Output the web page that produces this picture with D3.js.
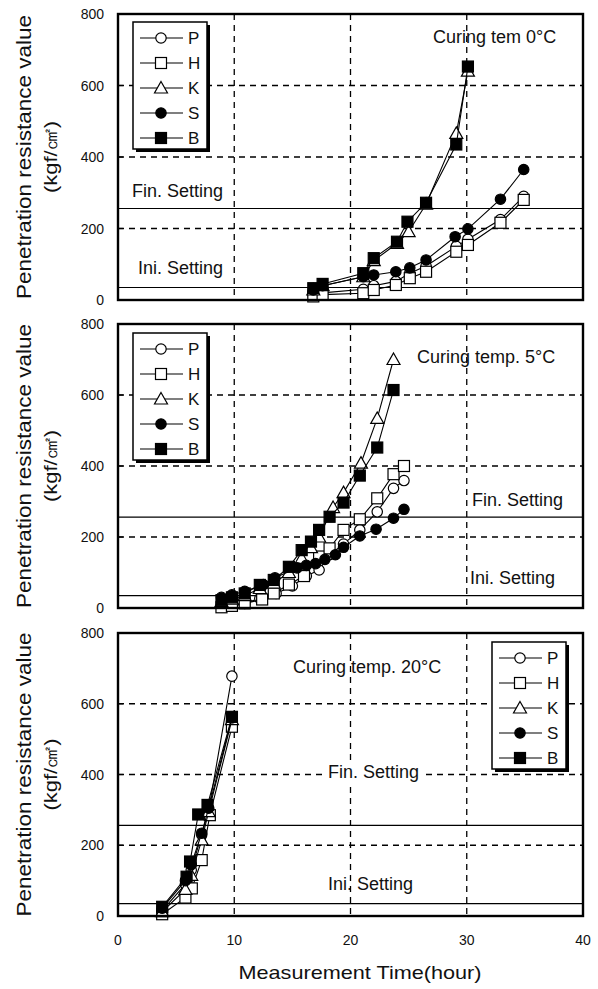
<!DOCTYPE html>
<html>
<head>
<meta charset="utf-8">
<script src="https://cdn.jsdelivr.net/npm/d3@7"></script>
<style>
  body { margin: 0; background: #fff; }
  text { font-family: "Liberation Sans", Arial, sans-serif; fill: #111; }
</style>
</head>
<body>
<div id="chart"></div>
<script>
// series names and markers
const seriesNames = ["P", "H", "K", "S", "B"];
const xTicks = [0, 10, 20, 30, 40];
const yTicks = [0, 200, 400, 600, 800];
const finSetting = 256, iniSetting = 35;

// curing temp 0°C  (time in hours, penetration resistance kgf/cm2)
const t0 = {
  P: [16.8, 17.6, 21.1, 22.0, 23.9, 25.1, 26.5, 29.1, 30.1, 32.9, 34.9],
  H: [16.8, 17.6, 21.1, 22.0, 23.9, 25.1, 26.5, 29.1, 30.1, 32.9, 34.9],
  K: [16.8, 17.6, 21.1, 22.0, 24.0, 25.0, 26.5, 29.1, 30.1],
  S: [16.8, 17.6, 21.1, 22.0, 23.9, 25.1, 26.5, 29.0, 30.1, 32.9, 34.9],
  B: [16.8, 17.6, 21.1, 22.0, 24.0, 24.9, 26.5, 29.1, 30.1]
};
const v0 = {
  P: [12, 20, 30, 40, 52, 75, 95, 150, 170, 225, 290],
  H: [10, 15, 19, 28, 42, 61, 79, 135, 154, 216, 280],
  K: [28, 40, 65, 110, 158, 191, 268, 466, 640],
  S: [28, 40, 65, 70, 79, 90, 112, 177, 199, 282, 365],
  B: [33, 45, 75, 117, 163, 219, 272, 435, 653]
};

// curing temp 5°C
const t5 = {
  P: [9.8, 10.9, 12.2, 13.6, 15.0, 16.2, 17.3, 18.2, 19.4, 20.8, 22.3, 23.7, 24.6],
  H: [8.9, 9.8, 10.9, 12.4, 13.4, 14.7, 16.0, 17.3, 18.2, 19.4, 20.8, 22.3, 23.7, 24.6],
  K: [8.9, 9.8, 10.9, 12.2, 13.4, 14.7, 15.8, 16.6, 17.3, 18.5, 19.4, 20.9, 22.3, 23.7],
  S: [8.9, 9.8, 10.9, 12.5, 13.5, 15.4, 16.2, 17.0, 17.8, 18.7, 19.4, 20.8, 22.2, 23.7, 24.6],
  B: [8.9, 9.8, 10.9, 12.2, 13.4, 14.7, 15.8, 16.6, 17.3, 18.2, 19.4, 20.8, 22.3, 23.7]
};
const v5 = {
  P: [5, 13, 27, 41, 62, 90, 107, 150, 180, 220, 271, 337, 359],
  H: [2, 6, 13, 24, 41, 66, 90, 145, 168, 220, 250, 309, 377, 400],
  K: [18, 25, 35, 55, 70, 100, 140, 170, 200, 283, 325, 408, 534, 700],
  S: [30, 37, 47, 66, 85, 113, 120, 125, 137, 150, 171, 203, 222, 253, 278],
  B: [22, 30, 41, 65, 79, 116, 163, 187, 220, 257, 297, 373, 452, 614]
};

// curing temp 20°C
const t20 = {
  P: [3.8, 5.8, 6.3, 7.2, 7.8, 9.8],
  H: [3.8, 5.8, 6.35, 7.2, 7.9, 9.8],
  K: [3.8, 5.8, 6.3, 7.2, 7.8, 9.8],
  S: [3.8, 5.8, 6.3, 7.2, 7.8, 9.8],
  B: [3.8, 5.9, 6.2, 6.9, 7.7, 9.8]
};
const v20 = {
  P: [15, 90, 130, 230, 300, 678],
  H: [5, 52, 78, 158, 285, 535],
  K: [12, 75, 115, 215, 295, 555],
  S: [22, 100, 145, 234, 305, 560],
  B: [26, 111, 154, 287, 314, 563]
};

const W = 598, H = 989;
const svg = d3.select("#chart").append("svg")
  .attr("width", W).attr("height", H);

const x = d3.scaleLinear().domain([0, 40]).range([118, 583]);

// one panel per curing temperature
const panels = [
  { top: 14, bottom: 300, t: t0, v: v0, title: "Curing tem  0°C", titleX: 433, titleY: 37,
    fin: [132, 191], ini: [138, 268], legend: [133, 22] },
  { top: 324, bottom: 608, t: t5, v: v5, title: "Curing temp. 5°C", titleX: 417, titleY: 357,
    fin: [472, 500], ini: [470, 578], legend: [133, 333] },
  { top: 633, bottom: 916, t: t20, v: v20, title: "Curing temp. 20°C", titleX: 293, titleY: 667,
    fin: [328, 772], ini: [328, 884], legend: [492, 642], finMask: true }
];

function drawMarker(g, name, cx, cy) {
  if (name === "P" || name === "S") {
    g.append("circle").attr("cx", cx).attr("cy", cy).attr("r", 5.2)
      .attr("fill", name === "S" ? "#000" : "#fff").attr("stroke", "#000").attr("stroke-width", 1.2);
  } else if (name === "H" || name === "B") {
    g.append("rect").attr("x", cx - 5.5).attr("y", cy - 5.5).attr("width", 11).attr("height", 11)
      .attr("fill", name === "B" ? "#000" : "#fff").attr("stroke", "#000").attr("stroke-width", 1.2);
  } else {
    g.append("path")
      .attr("d", "M" + cx + "," + (cy - 6.5) + "L" + (cx + 6.5) + "," + (cy + 5) + "L" + (cx - 6.5) + "," + (cy + 5) + "Z")
      .attr("fill", "#fff").attr("stroke", "#000").attr("stroke-width", 1.2);
  }
}

panels.forEach(function(p) {
  const y = d3.scaleLinear().domain([0, 800]).range([p.bottom, p.top]);
  const g = svg.append("g");

  // dashed grid
  g.selectAll(".vgrid").data([10, 20, 30]).enter().append("line")
    .attr("x1", d => x(d)).attr("x2", d => x(d))
    .attr("y1", p.top).attr("y2", p.bottom)
    .attr("stroke", "#000").attr("stroke-width", 1.3).attr("stroke-dasharray", "6,5");
  g.selectAll(".hgrid").data([200, 400, 600]).enter().append("line")
    .attr("x1", x(0)).attr("x2", x(40))
    .attr("y1", d => y(d)).attr("y2", d => y(d))
    .attr("stroke", "#000").attr("stroke-width", 1.3).attr("stroke-dasharray", "6,5");

  // setting lines
  [finSetting, iniSetting].forEach(function(val) {
    g.append("line").attr("x1", x(0)).attr("x2", x(40))
      .attr("y1", y(val)).attr("y2", y(val))
      .attr("stroke", "#000").attr("stroke-width", 1.2);
  });

  // y axis tick labels
  g.selectAll(".ytick").data(yTicks).enter().append("text")
    .attr("x", 104).attr("y", d => y(d)).attr("dy", "0.36em")
    .attr("text-anchor", "end").style("font-size", "14px")
    .text(d => d);
  g.selectAll(".ytickmark").data([200, 400, 600]).enter().append("line")
    .attr("x1", x(0)).attr("x2", x(0) + 5)
    .attr("y1", d => y(d)).attr("y2", d => y(d))
    .attr("stroke", "#000").attr("stroke-width", 1.2);

  // y axis title
  const midY = (p.top + p.bottom) / 2;
  g.append("text")
    .attr("transform", "translate(31," + midY + ") rotate(-90)")
    .attr("text-anchor", "middle")
    .attr("textLength", 284).attr("lengthAdjust", "spacingAndGlyphs")
    .style("font-size", "21px")
    .text("Penetration resistance value");
  g.append("text")
    .attr("transform", "translate(57," + midY + ") rotate(-90)")
    .attr("text-anchor", "middle")
    .attr("textLength", 72).attr("lengthAdjust", "spacingAndGlyphs")
    .style("font-size", "19px")
    .text("(kgf/㎠)");

  // annotations
  g.append("text").attr("x", p.titleX).attr("y", p.titleY).attr("dy", "0.36em")
    .style("font-size", "18px").text(p.title);
  const fin = g.append("text").attr("x", p.fin[0]).attr("y", p.fin[1]).attr("dy", "0.36em")
    .style("font-size", "18px").text("Fin. Setting");
  if (p.finMask) {
    const bb = fin.node().getBBox();
    g.insert("rect", function() { return fin.node(); })
      .attr("x", bb.x - 3).attr("y", bb.y).attr("width", bb.width + 6).attr("height", bb.height)
      .attr("fill", "#fff");
  }
  g.append("text").attr("x", p.ini[0]).attr("y", p.ini[1]).attr("dy", "0.36em")
    .style("font-size", "18px").text("Ini. Setting");

  // series lines and markers
  const line = d3.line().x(d => x(d[0])).y(d => y(d[1]));
  seriesNames.forEach(function(name) {
    const pts = p.t[name].map((tt, i) => [tt, p.v[name][i]]);
    g.append("path").attr("d", line(pts))
      .attr("fill", "none").attr("stroke", "#000").attr("stroke-width", 1.1);
    const mg = g.append("g");
    pts.forEach(d => drawMarker(mg, name, x(d[0]), y(d[1])));
  });

  // frame
  g.append("rect").attr("x", x(0)).attr("y", p.top)
    .attr("width", x(40) - x(0)).attr("height", p.bottom - p.top)
    .attr("fill", "none").attr("stroke", "#000").attr("stroke-width", 2.4);

  // legend
  const lx = p.legend[0], ly = p.legend[1];
  const lg = g.append("g");
  lg.append("rect").attr("x", lx + 3).attr("y", ly + 3).attr("width", 74).attr("height", 127)
    .attr("fill", "#000");
  lg.append("rect").attr("x", lx).attr("y", ly).attr("width", 74).attr("height", 127)
    .attr("fill", "#fff").attr("stroke", "#000").attr("stroke-width", 1.5);
  seriesNames.forEach(function(name, i) {
    const ry = ly + 16 + i * 25;
    lg.append("line").attr("x1", lx + 7).attr("x2", lx + 50)
      .attr("y1", ry).attr("y2", ry).attr("stroke", "#000").attr("stroke-width", 1.2);
    drawMarker(lg, name, lx + 28, ry);
    lg.append("text").attr("x", lx + 55).attr("y", ry).attr("dy", "0.36em")
      .style("font-size", "17px").text(name);
  });
});

// x axis (bottom panel only)
svg.selectAll(".xtick").data(xTicks).enter().append("text")
  .attr("x", d => x(d)).attr("y", 940).attr("dy", "0.36em")
  .attr("text-anchor", "middle").style("font-size", "14px")
  .text(d => d);
svg.append("text")
  .attr("x", 360).attr("y", 972).attr("dy", "0.36em")
  .attr("text-anchor", "middle")
  .attr("textLength", 243).attr("lengthAdjust", "spacingAndGlyphs")
  .style("font-size", "19px")
  .text("Measurement Time(hour)");
</script>
</body>
</html>
